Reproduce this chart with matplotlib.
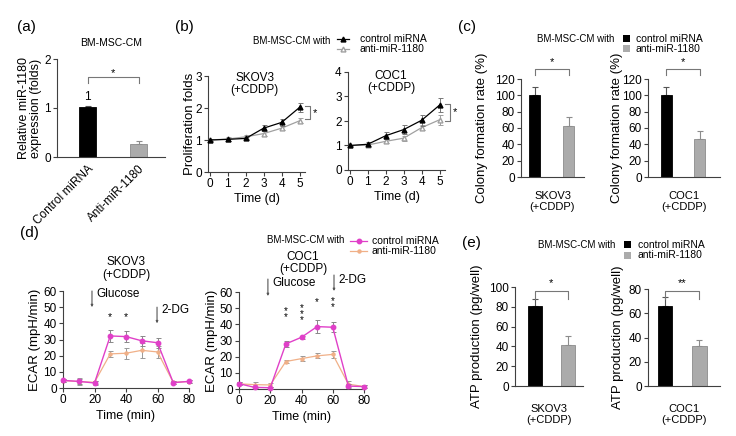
import matplotlib
matplotlib.use('Agg')
import matplotlib.pyplot as plt
from matplotlib.lines import Line2D
from matplotlib.patches import Rectangle

plt.rcParams['font.family'] = ['Liberation Sans', 'DejaVu Sans']
plt.rcParams['font.size'] = 8

# ---------------- data ----------------
a_labels = ['Control miRNA', 'Anti-miR-1180']
a_vals = [1.03, 0.27]
a_err = [0.02, 0.06]

b_time = [0, 1, 2, 3, 4, 5]
b_skov3_ctrl = [1.0, 1.02, 1.05, 1.37, 1.55, 2.02]
b_skov3_ctrl_err = [0.03, 0.05, 0.05, 0.10, 0.10, 0.15]
b_skov3_anti = [1.0, 1.03, 1.10, 1.20, 1.37, 1.60]
b_skov3_anti_err = [0.03, 0.05, 0.06, 0.08, 0.07, 0.08]
b_coc1_ctrl = [1.0, 1.05, 1.40, 1.65, 2.03, 2.65]
b_coc1_ctrl_err = [0.03, 0.10, 0.15, 0.20, 0.22, 0.27]
b_coc1_anti = [1.0, 1.02, 1.17, 1.30, 1.73, 2.05]
b_coc1_anti_err = [0.03, 0.05, 0.08, 0.10, 0.10, 0.20]

c_skov3 = [100, 63]
c_skov3_err = [10, 10]
c_coc1 = [100, 46]
c_coc1_err = [10, 10]

d_time = [0, 10, 20, 30, 40, 50, 60, 70, 80]
d_skov3_ctrl = [4.7, 4.1, 3.1, 32.2, 31.8, 29.2, 28.0, 3.3, 4.1]
d_skov3_ctrl_err = [1.0, 1.5, 1.0, 3.5, 3.5, 3.0, 3.0, 0.8, 1.0]
d_skov3_anti = [4.6, 4.0, 3.5, 21.1, 21.5, 23.3, 22.3, 3.5, 4.0]
d_skov3_anti_err = [1.0, 2.0, 1.0, 2.0, 3.5, 4.5, 3.5, 1.0, 1.0]
d_coc1_ctrl = [3.3, 1.0, 0.8, 27.9, 32.0, 38.6, 38.2, 1.8, 1.5]
d_coc1_ctrl_err = [0.8, 0.5, 0.5, 2.0, 1.0, 4.0, 3.0, 1.0, 1.0]
d_coc1_anti = [3.2, 2.7, 2.5, 17.0, 18.8, 20.5, 21.4, 3.0, 1.5]
d_coc1_anti_err = [1.0, 1.5, 1.0, 1.0, 1.5, 1.5, 2.0, 2.0, 1.0]

e_skov3 = [81, 41]
e_skov3_err = [7, 10]
e_coc1 = [66, 33]
e_coc1_err = [7, 5]

legend_prefix = 'BM-MSC-CM with'
legend_labels = ['control miRNA', 'anti-miR-1180']

# ---------------- styles ----------------
W, H = 736, 436
fig = plt.figure(figsize=(W / 100, H / 100), dpi=100)

AX_COL = '#404040'
BR_COL = '#777777'
MAG = '#E040C8'
ORG = '#F0B088'
GRAY_BAR = '#ABABAB'
GRAY_LINE = '#A0A0A0'
TICK_FS = 8.5
LAB_FS = 9.5
XLAB_FS = 9
LEG_FS = 7.5
PRE_FS = 7


def add_ax(x0, x1, yt, yb):
    ax = fig.add_axes([x0 / W, 1 - yb / H, (x1 - x0) / W, (yb - yt) / H])
    for s in ['top', 'right']:
        ax.spines[s].set_visible(False)
    for s in ['left', 'bottom']:
        ax.spines[s].set_linewidth(0.8)
        ax.spines[s].set_color(AX_COL)
    ax.tick_params(direction='out', length=3, width=0.8, color=AX_COL,
                   labelsize=TICK_FS, pad=1.5)
    return ax


def set_ylabel_px(ax, text, xc, x0, x1, fs=LAB_FS):
    ax.set_ylabel(text, fontsize=fs, va='center', linespacing=1.0)
    ax.yaxis.set_label_coords((xc - x0) / (x1 - x0), 0.5)


def hbracket(ax, xa, xb, ytop, ybot, label, ylab, fs=8):
    ax.plot([xa, xa, xb, xb], [ybot, ytop, ytop, ybot], color=BR_COL, lw=0.8,
            clip_on=False)
    ax.text((xa + xb) / 2, ylab, label, ha='center', va='center', fontsize=fs)


def bar_panel(ax, vals, errs, width):
    x = list(range(len(vals)))
    cols = ['black', GRAY_BAR]
    ecols = ['black', '#8C8C8C']
    ax.bar(x, vals, width=width, color=cols, edgecolor=ecols, linewidth=0.6,
           zorder=2)
    for xi, v, e, ec in zip(x, vals, errs, ['#555555', '#8C8C8C']):
        ax.errorbar([xi], [v], yerr=[[0], [e]], fmt='none', ecolor=ec,
                    elinewidth=0.8, capsize=2.5, capthick=0.8, zorder=1)


def panel_label(txt, x, y):
    fig.text(x / W, 1 - y / H, txt, fontsize=11, ha='left', va='center')


def ftext(txt, x, y, ha='left', fs=LEG_FS):
    fig.text(x / W, 1 - y / H, txt, fontsize=fs, ha=ha, va='center')


def leg_line(x0, x1, y, color, marker, mfc, ms):
    fig.add_artist(Line2D([x0 / W, x1 / W], [1 - y / H] * 2, color=color,
                          lw=0.9, transform=fig.transFigure))
    xm = (x0 + x1) / 2
    fig.add_artist(Line2D([xm / W], [1 - y / H], color=color, marker=marker,
                          mfc=mfc, mec=color, ms=ms, lw=0,
                          transform=fig.transFigure))


def leg_square(xc, yc, size, color):
    fig.add_artist(Rectangle(((xc - size / 2) / W, 1 - (yc + size / 2) / H),
                             size / W, size / H, facecolor=color,
                             edgecolor='none', transform=fig.transFigure))


# ---------------- (a) ----------------
x0, x1, yt, yb = 57, 165, 59, 157
ax = add_ax(x0, x1, yt, yb)
bar_panel(ax, a_vals, a_err, 0.33)
ax.set_xlim(-0.6, 1.52)
ax.set_ylim(0, 2)
ax.set_yticks([0, 1, 2])
ax.set_xticks([0, 1])
ax.set_xticklabels(a_labels, rotation=45, ha='right', rotation_mode='anchor',
                   fontsize=8.5)
ax.tick_params(axis='x', length=0, pad=4)
ax.text(0, a_vals[0] + 0.08, '1', ha='center', va='bottom', fontsize=8.5)
hbracket(ax, 0, 1, 1.63, 1.51, '*', 1.72)
ax.set_title('BM-MSC-CM', fontsize=7.5, pad=9)
set_ylabel_px(ax, 'Relative miR-1180\nexpression (folds)', 30, x0, x1, fs=9)
panel_label('(a)', 17, 27)

# ---------------- (b) ----------------
def prolif(ax, ctrl, ctrl_err, anti, anti_err):
    ax.errorbar(b_time, anti, yerr=anti_err, color=GRAY_LINE, marker='^',
                mfc='white', mec=GRAY_LINE, ms=3.5, lw=0.9, elinewidth=0.7,
                capsize=1.8, capthick=0.7, clip_on=False, zorder=2)
    ax.errorbar(b_time, ctrl, yerr=ctrl_err, color='black', marker='^',
                mfc='black', mec='black', ms=3.5, lw=0.9, elinewidth=0.7,
                ecolor='#777777', capsize=1.8, capthick=0.7, clip_on=False,
                zorder=3)
    ax.set_xlim(-0.1, 5.3)
    ax.set_xticks(b_time)


x0, x1, yt, yb = 208, 305, 76, 172
ax = add_ax(x0, x1, yt, yb)
prolif(ax, b_skov3_ctrl, b_skov3_ctrl_err, b_skov3_anti, b_skov3_anti_err)
ax.set_ylim(0, 3)
ax.set_yticks([0, 1, 2, 3])
ax.text(2.5, 2.74, 'SKOV3\n(+CDDP)', ha='center', va='center', fontsize=8.5,
        linespacing=1.0)
ax.plot([5.3, 5.57, 5.57, 5.3], [2.06, 2.06, 1.67, 1.67], color=BR_COL,
        lw=0.8, clip_on=False)
ax.text(5.85, 1.84, '*', ha='center', va='center', fontsize=8)
ax.set_xlabel('Time (d)', fontsize=XLAB_FS, labelpad=2)
set_ylabel_px(ax, 'Proliferation folds', 190, x0, x1)

x0, x1, yt, yb = 348, 445, 72, 170
ax = add_ax(x0, x1, yt, yb)
prolif(ax, b_coc1_ctrl, b_coc1_ctrl_err, b_coc1_anti, b_coc1_anti_err)
ax.set_ylim(0, 4)
ax.set_yticks([0, 1, 2, 3, 4])
ax.text(2.3, 3.58, 'COC1\n(+CDDP)', ha='center', va='center', fontsize=8.5,
        linespacing=1.0)
ax.plot([5.3, 5.57, 5.57, 5.3], [2.7, 2.7, 2.0, 2.0], color=BR_COL,
        lw=0.8, clip_on=False)
ax.text(5.85, 2.35, '*', ha='center', va='center', fontsize=8)
ax.set_xlabel('Time (d)', fontsize=XLAB_FS, labelpad=2)

panel_label('(b)', 175, 27)
ftext(legend_prefix, 253, 41, fs=PRE_FS)
leg_line(337, 349, 39, 'black', '^', 'black', 3.5)
leg_line(337, 349, 49, GRAY_LINE, '^', 'white', 3.5)
ftext(legend_labels[0], 360, 39)
ftext(legend_labels[1], 360, 49)

# ---------------- (c) ----------------
x0, x1, yt, yb = 521, 584, 79, 177
ax = add_ax(x0, x1, yt, yb)
bar_panel(ax, c_skov3, c_skov3_err, 0.33)
ax.set_xlim(-0.4, 1.45)
ax.set_ylim(0, 120)
ax.set_yticks(range(0, 121, 20))
ax.set_xticks([])
hbracket(ax, 0, 1, 132, 125, '*', 141)
ax.set_xlabel('SKOV3\n(+CDDP)', fontsize=8, labelpad=10, linespacing=1.1)
set_ylabel_px(ax, 'Colony formation rate (%)', 482, x0, x1)

x0, x1, yt, yb = 648, 720, 79, 177
ax = add_ax(x0, x1, yt, yb)
bar_panel(ax, c_coc1, c_coc1_err, 0.33)
ax.set_xlim(-0.56, 1.62)
ax.set_ylim(0, 120)
ax.set_yticks(range(0, 121, 20))
ax.set_xticks([])
hbracket(ax, 0, 1, 132, 125, '*', 141)
ax.set_xlabel('COC1\n(+CDDP)', fontsize=8, labelpad=10, linespacing=1.1)
set_ylabel_px(ax, 'Colony formation rate (%)', 617, x0, x1)

panel_label('(c)', 458, 27)
ftext(legend_prefix, 537, 39, fs=PRE_FS)
leg_square(626, 39, 7, 'black')
leg_square(626, 49, 7, GRAY_BAR)
ftext(legend_labels[0], 636, 39)
ftext(legend_labels[1], 636, 49)

# ---------------- (d) ----------------
def ecar(ax, ctrl, ctrl_err, anti, anti_err):
    ax.errorbar(d_time, anti, yerr=anti_err, color=ORG, marker='o', ms=2.2,
                mfc=ORG, mec=ORG, lw=0.9, elinewidth=0.7, ecolor='#999999',
                capsize=1.8, capthick=0.7, clip_on=False, zorder=2)
    ax.errorbar(d_time, ctrl, yerr=ctrl_err, color=MAG, marker='o', ms=3.2,
                mfc=MAG, mec=MAG, lw=1.0, elinewidth=0.7, ecolor='#888888',
                capsize=1.8, capthick=0.7, clip_on=False, zorder=3)
    ax.set_xlim(0, 80)
    ax.set_xticks([0, 20, 40, 60, 80])
    ax.set_ylim(0, 60)
    ax.set_yticks(range(0, 61, 10))
    ax.set_xlabel('Time (min)', fontsize=XLAB_FS, labelpad=3)


def marker_arrow(ax, x, ytop, ybot, label, xt, yt_):
    ax.annotate('', xy=(x, ybot), xytext=(x, ytop),
                arrowprops=dict(arrowstyle='-|>', color='#555555', lw=0.8,
                                mutation_scale=3, shrinkA=0, shrinkB=0),
                annotation_clip=False)
    ax.text(xt, yt_, label, ha='left', va='center', fontsize=8.5)


x0, x1, yt, yb = 63, 189, 291, 388
ax = add_ax(x0, x1, yt, yb)
ecar(ax, d_skov3_ctrl, d_skov3_ctrl_err, d_skov3_anti, d_skov3_anti_err)
marker_arrow(ax, 18.4, 60, 50, 'Glucose', 21.5, 58)
marker_arrow(ax, 59.7, 50, 40, '2-DG', 62.2, 48)
ax.text(30, 44, '*', ha='center', va='center', fontsize=7.5)
ax.text(40, 44, '*', ha='center', va='center', fontsize=7.5)
ax.text(40, 74, 'SKOV3\n(+CDDP)', ha='center', va='center', fontsize=8.5,
        linespacing=1.05)
set_ylabel_px(ax, 'ECAR (mpH/min)', 35, x0, x1)

x0, x1, yt, yb = 239, 364, 292, 389
ax = add_ax(x0, x1, yt, yb)
ecar(ax, d_coc1_ctrl, d_coc1_ctrl_err, d_coc1_anti, d_coc1_anti_err)
marker_arrow(ax, 18.5, 68, 57.5, 'Glucose', 21.1, 65.6)
marker_arrow(ax, 60.8, 70.5, 60.6, '2-DG', 63.4, 67.4)
for xs, lab, ys in [(30, '*\n*', 46.5), (40, '*\n*\n*', 46.5),
                    (50, '*', 53.5), (60, '*\n*', 52.5)]:
    ax.text(xs, ys, lab, ha='center', va='center', fontsize=7,
            linespacing=0.5)
ax.text(41, 78, 'COC1\n(+CDDP)', ha='center', va='center', fontsize=8.5,
        linespacing=1.05)
set_ylabel_px(ax, 'ECAR (mpH/min)', 212, x0, x1)

panel_label('(d)', 20, 233)
ftext(legend_prefix, 267, 240, fs=PRE_FS)
leg_line(350, 367, 241, MAG, 'o', MAG, 3.2)
leg_line(350, 367, 251, ORG, 'o', ORG, 2.2)
ftext(legend_labels[0], 372, 241)
ftext(legend_labels[1], 372, 251)

# ---------------- (e) ----------------
x0, x1, yt, yb = 515, 583, 287, 386
ax = add_ax(x0, x1, yt, yb)
bar_panel(ax, e_skov3, e_skov3_err, 0.42)
ax.set_xlim(-0.6, 1.46)
ax.set_ylim(0, 100)
ax.set_yticks(range(0, 101, 20))
ax.set_xticks([])
hbracket(ax, 0, 1, 96, 88, '*', 104)
ax.set_xlabel('SKOV3\n(+CDDP)', fontsize=8, labelpad=13, linespacing=1.1)
set_ylabel_px(ax, 'ATP production (pg/well)', 477, x0, x1)

x0, x1, yt, yb = 648, 720, 289, 386
ax = add_ax(x0, x1, yt, yb)
bar_panel(ax, e_coc1, e_coc1_err, 0.42)
ax.set_xlim(-0.49, 1.6)
ax.set_ylim(0, 80)
ax.set_yticks(range(0, 81, 20))
ax.set_xticks([])
hbracket(ax, 0, 1, 78.4, 71.8, '**', 85)
ax.set_xlabel('COC1\n(+CDDP)', fontsize=8, labelpad=13, linespacing=1.1)
set_ylabel_px(ax, 'ATP production (pg/well)', 618, x0, x1)

panel_label('(e)', 462, 243)
ftext(legend_prefix, 538, 245, fs=PRE_FS)
leg_square(627, 245, 7, 'black')
leg_square(627, 255, 7, GRAY_BAR)
ftext(legend_labels[0], 638, 245)
ftext(legend_labels[1], 638, 255)

fig.savefig('out.png', dpi=100)
